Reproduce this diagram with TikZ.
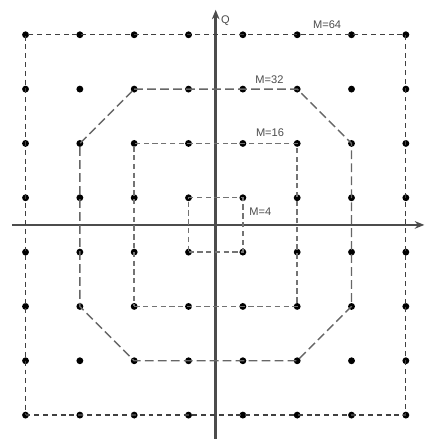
\documentclass[tikz,border=0pt]{standalone}
\usepackage{fontspec}
\setmainfont{Liberation Sans}
\usetikzlibrary{positioning, arrows.meta, calc}

\begin{document}
\begin{tikzpicture}[
    pt/.style={circle, fill=black, inner sep=0pt, minimum size=3.6pt},
    axisln/.style={black!70, line width=1.3pt},
    bnd/.style={black!75, line width=0.65pt, dash pattern=on 2.6pt off 2pt},
    bndlong/.style={black!60, line width=0.75pt, dash pattern=on 4.6pt off 2.2pt},
    bndmid/.style={black!55, line width=0.75pt, dash pattern=on 2.8pt off 1.8pt},
    lbl/.style={font=\fontsize{5.8}{7}\selectfont, text=black!70, inner sep=0pt},
]

\useasboundingbox (-3.97,-3.94) rectangle (3.84,4.14);

% ====== AXES ======
\coordinate (xl) at (-3.75,0);
\coordinate (xr) at (3.84,0);
\coordinate (yb) at (0,-3.94);
\coordinate (yt) at (0,3.96);
\draw[axisln, -{Stealth[length=5pt, width=4pt]}] (xl) -- (xr);
\draw[axisln, -{Stealth[length=5pt, width=4pt]}] (yb) -- (yt);
\node[lbl] (qlbl) at (0.18,3.76) {Q};

% ====== CONSTELLATION POINTS ======
\foreach \i in {1,...,8}
  \foreach \j in {1,...,8}
    \node[pt] (p\i\j) at ({\i-4.5},{\j-4.5}) {};

% ====== BOUNDARIES ======
% M=64
\draw[bnd] (p11.center) -- (p81.center) -- (p88.center) -- (p18.center) -- cycle;
% M=32
\draw[bndlong] (p37.center) -- (p67.center) -- (p76.center) -- (p73.center)
    -- (p62.center) -- (p32.center) -- (p23.center) -- (p26.center) -- cycle;
% M=16
\draw[bndmid] (p33.center) -- (p63.center) -- (p66.center) -- (p36.center) -- cycle;
% M=4
\draw[bndmid] (p44.center) -- (p54.center) -- (p55.center) -- (p45.center) -- cycle;

% ====== LABELS ======
\node[lbl] (m64) at (2.05,3.68) {M=64};
\node[lbl] (m32) at (0.99,2.67) {M=32};
\node[lbl] (m16) at (1.0,1.69) {M=16};
\node[lbl] (m4) at (0.82,0.24) {M=4};

\end{tikzpicture}
\end{document}
